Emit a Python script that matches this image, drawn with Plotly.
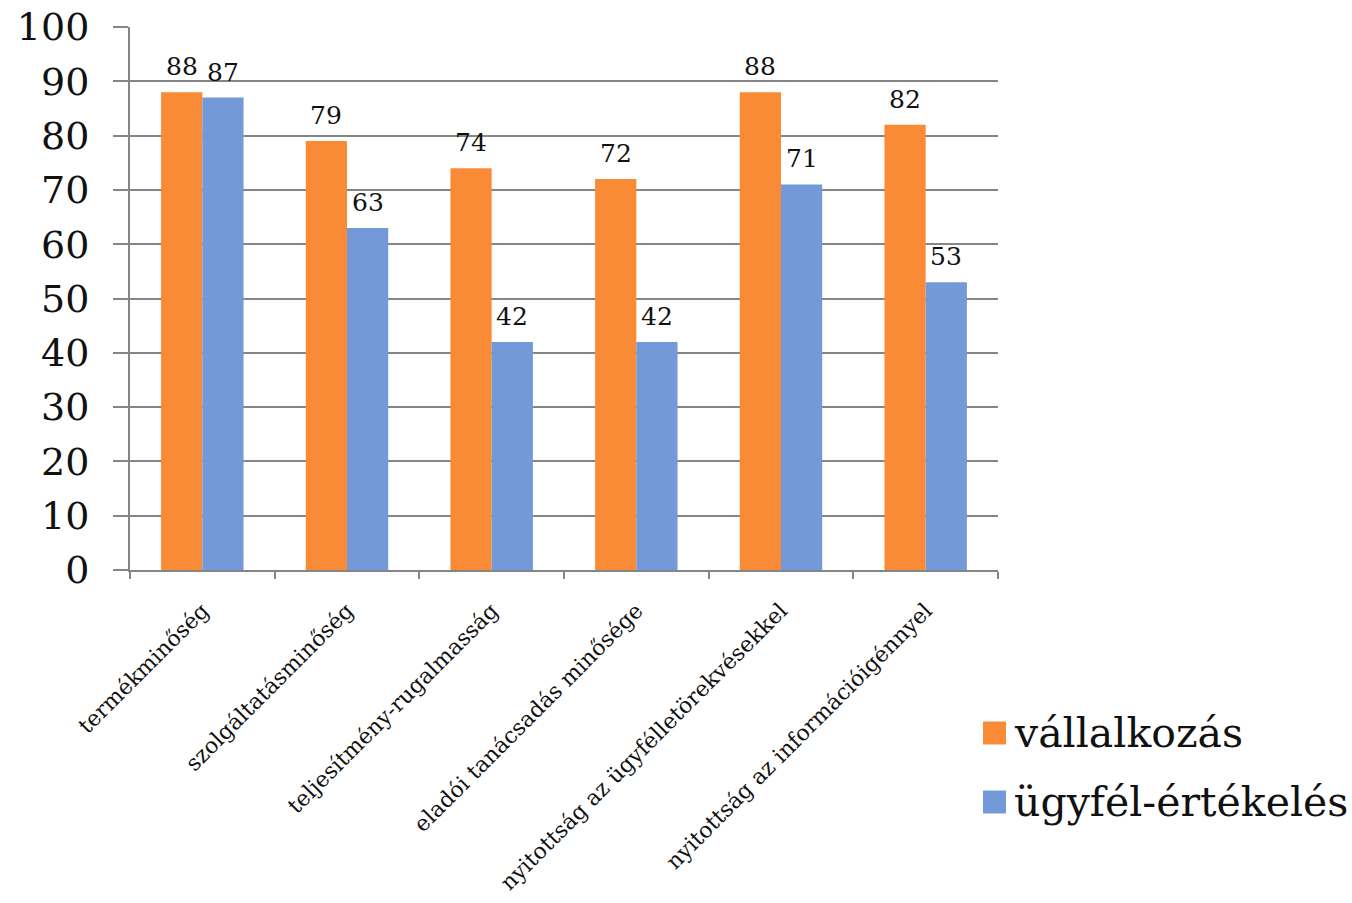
import plotly.graph_objects as go

categories = [
    "termékminőség",
    "szolgáltatásminőség",
    "teljesítmény-rugalmasság",
    "eladói tanácsadás minősége",
    "nyitottság az ügyfélletörekvésekkel",
    "nyitottság az információigénnyel",
]
series_names = ["vállalkozás", "ügyfél-értékelés"]
vallalkozas = [88, 79, 74, 72, 88, 82]
ugyfel_ertekeles = [87, 63, 42, 42, 71, 53]
y_ticks = [0, 10, 20, 30, 40, 50, 60, 70, 80, 90, 100]

colors = ["#F98A36", "#7499D9"]
font_family = "DejaVu Serif"
grey = "#858585"
text_col = "#111111"

W, H = 1352, 903
ML, MR, MT, MB = 130, 354, 27, 333
BARGAP = 0.43
plot_w = W - ML - MR
plot_h = H - MT - MB

fig = go.Figure()
all_series = [vallalkozas, ugyfel_ertekeles]
for name, vals, col in zip(series_names, all_series, colors):
    fig.add_trace(go.Bar(
        x=categories, y=vals, name=name,
        marker=dict(color=col, line=dict(width=0)),
        showlegend=False,
    ))

# Value labels above each bar (offset to the bar's slot within the group)
cat_px = plot_w / len(categories)
bar_px = cat_px * (1 - BARGAP) / len(all_series)
for i, vals in enumerate(all_series):
    dx = (i - (len(all_series) - 1) / 2) * bar_px
    for c, v in zip(categories, vals):
        fig.add_annotation(x=c, y=v, text=str(v), showarrow=False,
                           xanchor="center", yanchor="bottom",
                           xshift=dx, yshift=9,
                           font=dict(family=font_family, size=25, color=text_col))

fig.update_layout(
    width=W, height=H,
    margin=dict(l=ML, r=MR, t=MT, b=MB, autoexpand=False),
    paper_bgcolor="white", plot_bgcolor="white",
    barmode="group", bargap=BARGAP, bargroupgap=0,
    font=dict(family=font_family, color=text_col),
)
fig.update_xaxes(
    automargin=False,
    showline=True, linecolor=grey, linewidth=2,
    ticks="outside", tickson="boundaries", ticklen=7, tickcolor=grey, tickwidth=2,
    tickangle=-45, ticklabelstandoff=17,
    tickfont=dict(family=font_family, size=22, color=text_col),
    showgrid=False,
)
fig.update_yaxes(
    automargin=False,
    range=[0, 100], tickvals=y_ticks,
    showline=True, linecolor=grey, linewidth=2,
    ticks="outside", ticklen=15, tickcolor=grey, tickwidth=2,
    ticklabelstandoff=16,
    tickfont=dict(family=font_family, size=38, color=text_col),
    showgrid=True, gridcolor=grey, gridwidth=2, zeroline=False,
)

# Legend: coloured squares with series names to the right of the plot
legend_y = [733, 802]
for name, col, yp in zip(series_names, colors, legend_y):
    fig.add_shape(type="rect", xref="paper", yref="paper",
                  x0=(983 - ML) / plot_w, x1=(1006 - ML) / plot_w,
                  y0=(H - MB - yp - 11.5) / plot_h, y1=(H - MB - yp + 11.5) / plot_h,
                  fillcolor=col, line=dict(width=0))
    fig.add_annotation(text=name, xref="paper", yref="paper",
                       x=(1012 - ML) / plot_w, y=(H - MB - yp) / plot_h,
                       xanchor="left", yanchor="middle", showarrow=False,
                       font=dict(family=font_family, size=41, color=text_col))

fig.write_html("out.html")
